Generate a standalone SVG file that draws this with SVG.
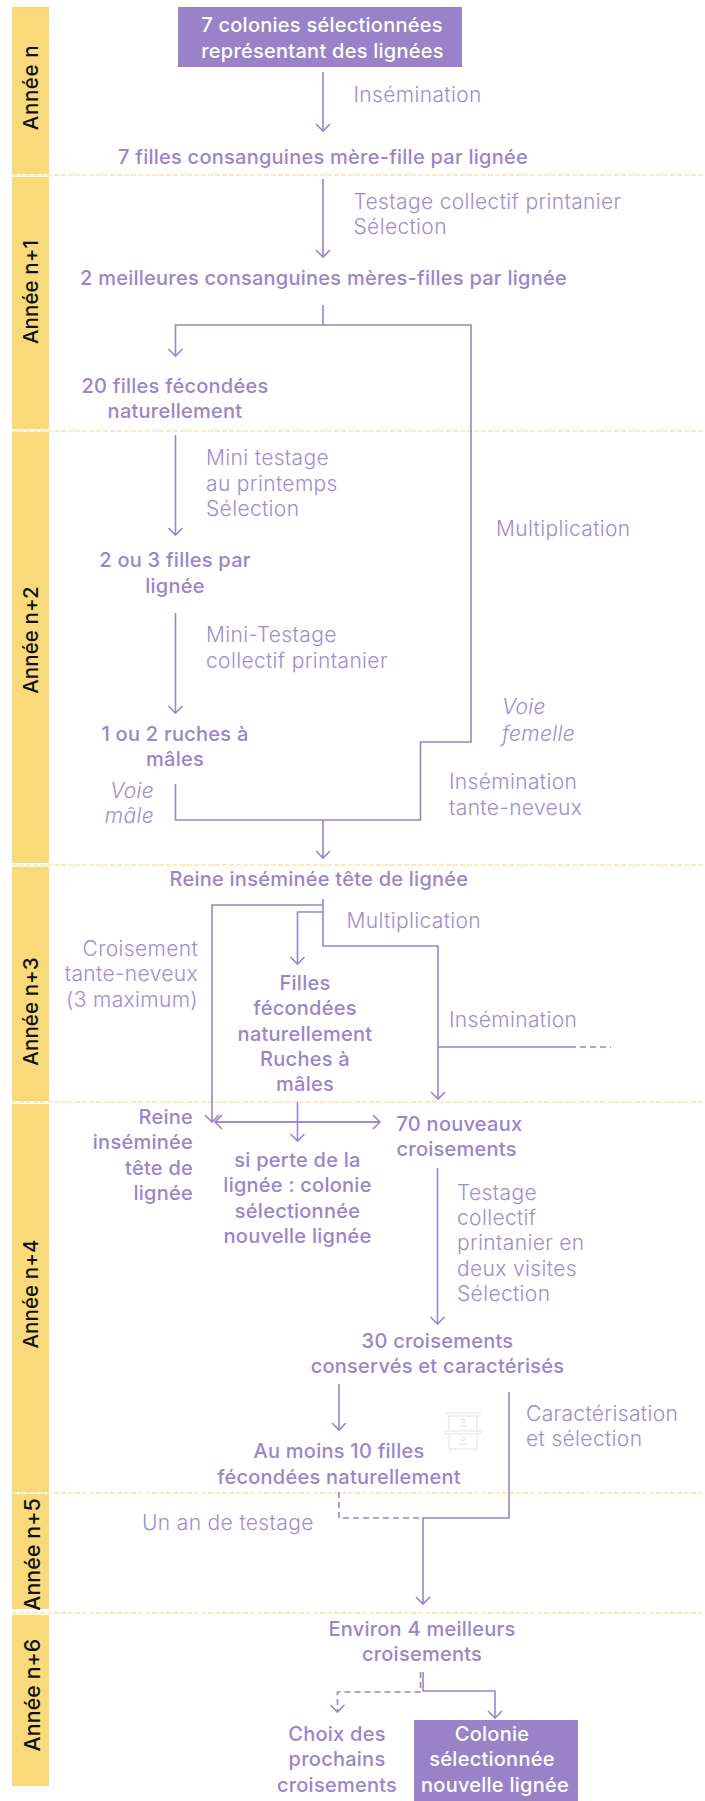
<svg xmlns="http://www.w3.org/2000/svg" width="705" height="1801" viewBox="0 0 705 1801">
<style>
text{font-family:"Inter","Liberation Sans",sans-serif;fill:#9a85cb;font-size:20px;letter-spacing:.25px}
.b{font-weight:500}
.l{font-weight:300;fill:#a08dd0;font-size:21px;letter-spacing:.35px}
.i{font-weight:300;font-style:italic;fill:#a08dd0;font-size:21px;letter-spacing:.35px}
.m{text-anchor:middle}
.e{text-anchor:end}
.w{fill:#fff;font-weight:500}
.y{fill:#111;font-size:20.5px;font-weight:500;text-anchor:middle;letter-spacing:.1px}
.y0{letter-spacing:.6px}
.y2{font-size:21.3px}
.bar{fill:#f8da7a}
.sep{stroke:#f8da7a;stroke-width:1.2;stroke-dasharray:5 2;fill:none}
.c{fill:none;stroke:#9a85cb;stroke-width:1.6}
.d{stroke-dasharray:6 4}
.h{fill:none;stroke:#e3e3e3;stroke-width:1}
</style>
<defs>
<marker id="a" markerUnits="userSpaceOnUse" markerWidth="18" markerHeight="18" refX="8" refY="9" orient="auto"><path d="M1 2L8 9L1 16" fill="none" stroke="#9a85cb" stroke-width="1.6"/></marker>
</defs>
<g id="years">
<rect class="bar" x="12" y="7" width="37" height="167"/>
<rect class="bar" x="12" y="177" width="37" height="252"/>
<rect class="bar" x="12" y="432" width="37" height="431"/>
<rect class="bar" x="12" y="867" width="37" height="234"/>
<rect class="bar" x="12" y="1104" width="37" height="388"/>
<rect class="bar" x="12" y="1494" width="37" height="115"/>
<rect class="bar" x="12" y="1615" width="37" height="171"/>
<text class="y y0" transform="translate(37.5 87.5) rotate(-90)">Année n</text>
<text class="y" transform="translate(37.5 292) rotate(-90)">Année n+1</text>
<text class="y" transform="translate(37.5 640) rotate(-90)">Année n+2</text>
<text class="y" transform="translate(37.5 1011.5) rotate(-90)">Année n+3</text>
<text class="y" transform="translate(37.5 1294) rotate(-90)">Année n+4</text>
<text class="y y2" transform="translate(40 1554.5) rotate(-90)">Année n+5</text>
<text class="y y2" transform="translate(40 1695) rotate(-90)">Année n+6</text>
</g>
<g id="separators">
<path class="sep" d="M12 175H705M12 431H705M12 865H705M12 1102H705M12 1493H705M12 1613H705"/>
</g>
<g id="connectors">
<path class="c" marker-end="url(#a)" d="M323 72V131"/>
<path class="c" marker-end="url(#a)" d="M323 179V257"/>
<path class="c" marker-end="url(#a)" d="M323 305V325H175.5V356"/>
<path class="c" d="M323 325H471V742H420.5V820H175.5V784"/>
<path class="c" marker-end="url(#a)" d="M323 820V858"/>
<path class="c" marker-end="url(#a)" d="M175.5 435V535"/>
<path class="c" marker-end="url(#a)" d="M175.5 613V713"/>
<path class="c" marker-end="url(#a)" d="M323 899V946H438V1099"/>
<path class="c" marker-end="url(#a)" d="M323 905H212V1122"/>
<path class="c" marker-end="url(#a)" d="M323 912H297.5V964"/>
<path class="c" d="M438 1047H576"/>
<path class="c d" d="M580 1047H611"/>
<path class="c" marker-end="url(#a)" d="M215 1122H380"/>
<path class="c" marker-end="url(#a)" d="M380 1122H215"/>
<path class="c" marker-end="url(#a)" d="M297.5 1102V1141"/>
<path class="c" marker-end="url(#a)" d="M437.5 1168V1324"/>
<path class="c" marker-end="url(#a)" d="M339 1384V1430"/>
<path class="c" marker-end="url(#a)" d="M509 1392V1518H423V1604"/>
<path class="c d" d="M339 1492V1518H423"/>
<path class="c" marker-end="url(#a)" d="M423 1672V1691H495V1718"/>
<path class="c d" marker-end="url(#a)" d="M420.5 1672V1692H337.5V1712"/>
</g>
<g id="hive">
<path class="h" d="M445 1413H481M447 1416H479M449 1416V1431M477 1416V1431M445 1431H481V1434H445ZM449 1434V1449M477 1434V1449M449 1449H477M451 1449L449 1452M475 1449L477 1452M459 1426H467M459 1444H467"/>
<circle class="h" cx="463" cy="1421" r="2"/><circle class="h" cx="463" cy="1439" r="2"/>
</g>
<g id="n1"><rect x="178" y="7" width="284" height="60" fill="#9a82c8"/>
<text class="w m" x="322" y="32">7 colonies sélectionnées</text>
<text class="w m" x="322.5" y="58">représentant des lignées</text></g>
<g id="n2"><text class="b" x="118" y="164">7 filles consanguines mère-fille par lignée</text></g>
<g id="n3"><text class="b" x="80" y="285">2 meilleures consanguines mères-filles par lignée</text></g>
<g id="n4"><text class="b m" x="175" y="393">20 filles fécondées</text><text class="b m" x="175" y="418">naturellement</text></g>
<g id="n5"><text class="b m" x="175" y="567">2 ou 3 filles par</text><text class="b m" x="175" y="593">lignée</text></g>
<g id="n6"><text class="b m" x="175" y="741">1 ou 2 ruches à</text><text class="b m" x="175" y="766">mâles</text></g>
<g id="n7"><text class="b" x="169.5" y="886">Reine inséminée tête de lignée</text></g>
<g id="n8"><text class="b m" x="305" y="990">Filles</text><text class="b m" x="305" y="1015">fécondées</text><text class="b m" x="305" y="1041">naturellement</text><text class="b m" x="305" y="1066">Ruches à</text><text class="b m" x="305" y="1091">mâles</text></g>
<g id="n9"><text class="b e" x="193" y="1124">Reine</text><text class="b e" x="193" y="1149">inséminée</text><text class="b e" x="193" y="1175">tête de</text><text class="b e" x="193" y="1200">lignée</text></g>
<g id="n10"><text class="b m" x="297.5" y="1167">si perte de la</text><text class="b m" x="297.5" y="1192">lignée : colonie</text><text class="b m" x="297.5" y="1218">sélectionnée</text><text class="b m" x="297.5" y="1243">nouvelle lignée</text></g>
<g id="n11"><text class="b" x="396.5" y="1131">70 nouveaux</text><text class="b" x="396.5" y="1156">croisements</text></g>
<g id="n12"><text class="b m" x="437.5" y="1348">30 croisements</text><text class="b m" x="437.5" y="1373">conservés et caractérisés</text></g>
<g id="n13"><text class="b m" x="339" y="1458">Au moins 10 filles</text><text class="b m" x="339" y="1484">fécondées naturellement</text></g>
<g id="n14"><text class="b m" x="422" y="1636">Environ 4 meilleurs</text><text class="b m" x="422" y="1661">croisements</text></g>
<g id="n15"><text class="b m" x="337" y="1741">Choix des</text><text class="b m" x="337" y="1766">prochains</text><text class="b m" x="337" y="1792">croisements</text></g>
<g id="n16"><rect x="414" y="1720" width="164" height="81" fill="#9a82c8"/><text class="w m" x="492" y="1741">Colonie</text><text class="w m" x="492" y="1766">sélectionnée</text><text class="w m" x="495" y="1792">nouvelle lignée</text></g>
<g id="labels">
<text class="l" x="353.5" y="102">Insémination</text>
<text class="l" x="353.5" y="209">Testage collectif printanier</text><text class="l" x="353.5" y="234">Sélection</text>
<text class="l" x="206" y="465">Mini testage</text><text class="l" x="206" y="491">au printemps</text><text class="l" x="206" y="516">Sélection</text>
<text class="l" x="496" y="536">Multiplication</text>
<text class="l" x="206" y="642">Mini-Testage</text><text class="l" x="206" y="668">collectif printanier</text>
<text class="i" x="502" y="714">Voie</text><text class="i" x="502" y="741">femelle</text>
<text class="i e" x="154" y="798">Voie</text><text class="i e" x="154" y="823">mâle</text>
<text class="l" x="449" y="789">Insémination</text><text class="l" x="449" y="815">tante-neveux</text>
<text class="l" x="346.5" y="928">Multiplication</text>
<text class="l e" x="198" y="956">Croisement</text><text class="l e" x="198" y="981">tante-neveux</text><text class="l e" x="198" y="1007">(3 maximum)</text>
<text class="l" x="449" y="1027">Insémination</text>
<text class="l" x="457" y="1200">Testage</text><text class="l" x="457" y="1225">collectif</text><text class="l" x="457" y="1250">printanier en</text><text class="l" x="457" y="1276">deux visites</text><text class="l" x="457" y="1301">Sélection</text>
<text class="l" x="526" y="1421">Caractérisation</text><text class="l" x="526" y="1446">et sélection</text>
<text class="l" x="142" y="1530">Un an de testage</text>
</g>
</svg>
